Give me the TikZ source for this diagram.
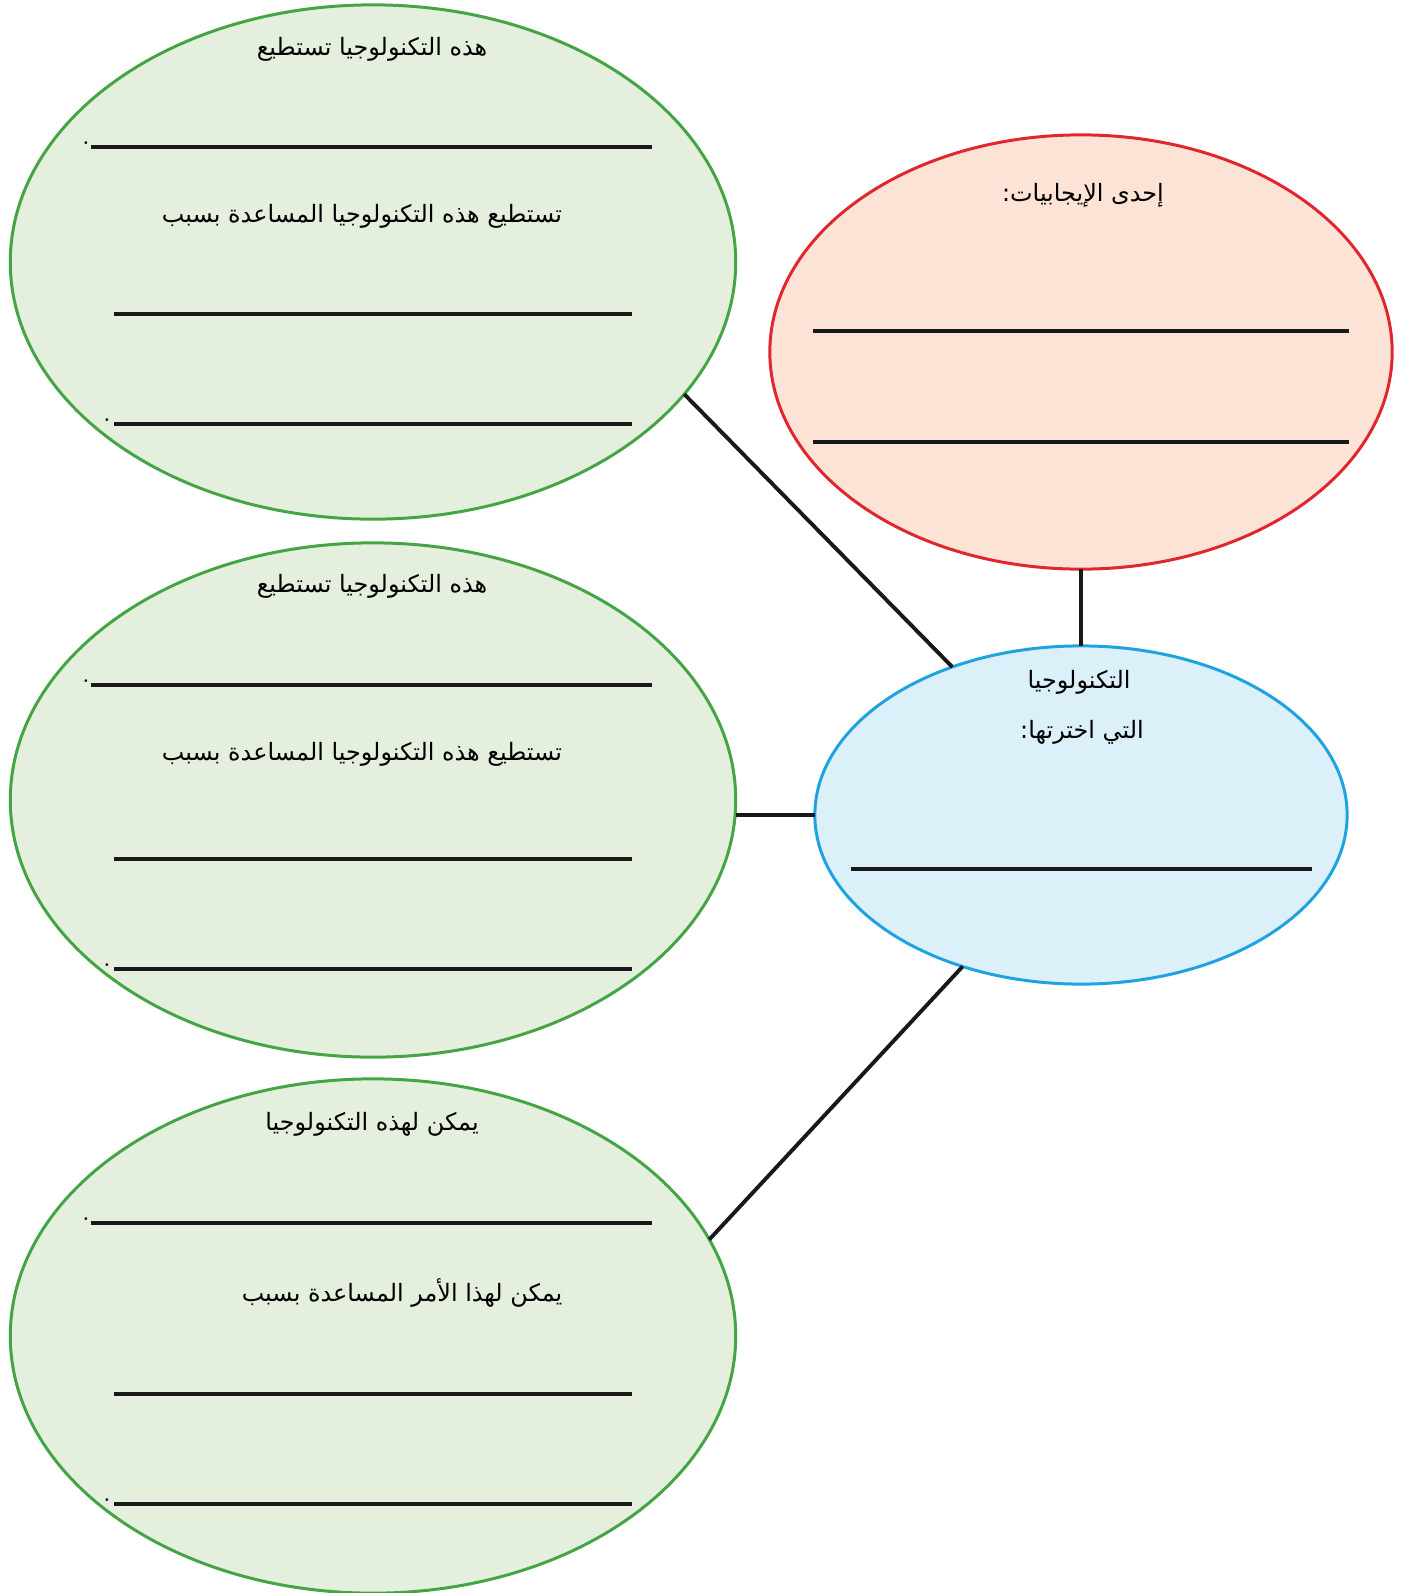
\documentclass[tikz,border=0pt]{standalone}
\usepackage{fontspec}
\usetikzlibrary{shapes.geometric}
\TeXXeTstate=1
\newfontfamily\arabicfont[Script=Arabic]{DejaVu Sans}
\definecolor{greenFill}{HTML}{E4F0DD}
\definecolor{greenLine}{HTML}{45A444}
\definecolor{redFill}{HTML}{FDE3D5}
\definecolor{redLine}{HTML}{E0262E}
\definecolor{blueFill}{HTML}{DCF0F9}
\definecolor{blueLine}{HTML}{1FA3E0}
\newcommand{\ar}[1]{\arabicfont\beginR #1\endR}

\begin{document}
\begin{tikzpicture}[x=0.01cm,y=-0.01cm,
    bubble/.style={ellipse,draw,line width=0.85pt,inner sep=0pt,outer sep=0pt},
    greenbub/.style={bubble,draw=greenLine,fill=greenFill,
                     minimum width=7.25cm,minimum height=5.14cm},
    label/.style={font=\fontsize{6.8}{8}\selectfont,inner sep=0pt},
    writeline/.style={line width=1.2pt,black!90},
    link/.style={line width=1.1pt,black!90}]
    \useasboundingbox[fill=white] (0,0) rectangle (1406,1593);
    % bubbles
    \node[greenbub] (can) at (373,262) {};
    \node[greenbub] (help) at (373,800) {};
    \node[greenbub] (may) at (373,1336) {};
    \node[bubble,draw=redLine,fill=redFill,minimum width=6.22cm,
          minimum height=4.34cm] (plus) at (1081,352) {};
    \node[bubble,draw=blueLine,fill=blueFill,minimum width=5.32cm,
          minimum height=3.38cm] (tech) at (1081,815) {};
    % links to the centre
    \draw[link] (plus.south) -- (tech.north);
    \draw[link] (can.-23.6) -- (tech.131.3);
    \draw[link] (tech.west) -- (tech.west -| help.east);
    \draw[link] (may.16.1) -- (tech.232);
    % first bubble
    \node[label] (canA) at (372,49) {\ar{هذه التكنولوجيا تستطيع}};
    \node[label] (canB) at (362,216) {\ar{تستطيع هذه التكنولوجيا المساعدة بسبب}};
    \draw[writeline] (91,147) -- (652,147);
    \draw[writeline] (114,314) -- (632,314);
    \draw[writeline] (114,424) -- (632,424);
    \node[label] (canDotA) at (86,143) {.};
    \node[label] (canDotB) at (107,420) {.};
    % second bubble
    \node[label] (helpA) at (372,586) {\ar{هذه التكنولوجيا تستطيع}};
    \node[label] (helpB) at (362,754) {\ar{تستطيع هذه التكنولوجيا المساعدة بسبب}};
    \draw[writeline] (91,685) -- (652,685);
    \draw[writeline] (114,859) -- (632,859);
    \draw[writeline] (114,969) -- (632,969);
    \node[label] (helpDotA) at (86,681) {.};
    \node[label] (helpDotB) at (107,965) {.};
    % third bubble
    \node[label] (mayA) at (372,1124) {\ar{يمكن لهذه التكنولوجيا}};
    \node[label] (mayB) at (402,1293) {\ar{يمكن لهذا الأمر المساعدة بسبب}};
    \draw[writeline] (91,1223) -- (652,1223);
    \draw[writeline] (114,1394) -- (632,1394);
    \draw[writeline] (114,1504) -- (632,1504);
    \node[label] (mayDotA) at (86,1219) {.};
    \node[label] (mayDotB) at (107,1500) {.};
    % red bubble
    \node[label] (plusA) at (1083,195) {\ar{إحدى الإيجابيات:}};
    \draw[writeline] (813,331) -- (1349,331);
    \draw[writeline] (813,442) -- (1349,442);
    % blue bubble
    \node[label] (techA) at (1079,682) {\ar{التكنولوجيا}};
    \node[label] (techB) at (1082,732) {\ar{التي اخترتها:}};
    \draw[writeline] (851,869) -- (1312,869);
\end{tikzpicture}
\end{document}
